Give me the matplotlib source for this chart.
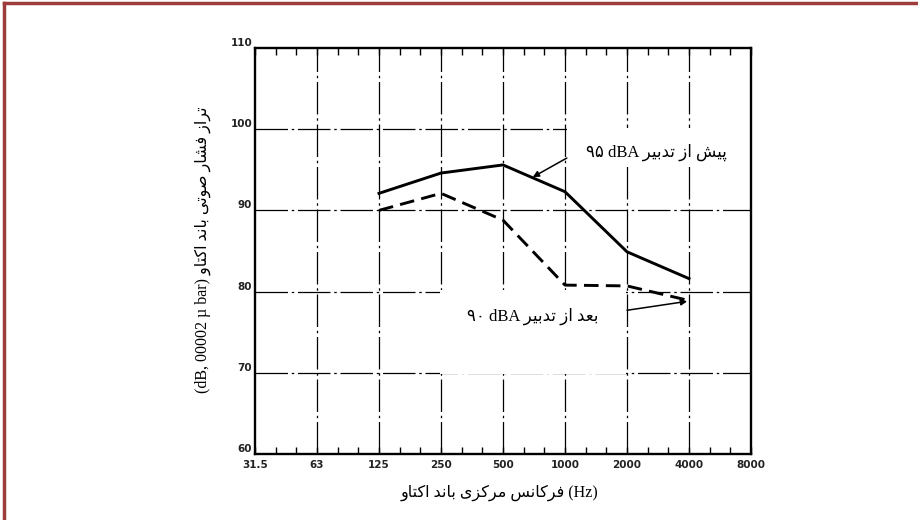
import numpy as np
import matplotlib
matplotlib.use("Agg")
import matplotlib.pyplot as plt
from matplotlib.patches import Rectangle
from matplotlib.lines import Line2D

# octave band centre frequencies (x axis) and measured levels
bands = ['31.5', '63', '125', '250', '500', '1000', '2000', '4000', '8000']
data_bands = ['125', '250', '500', '1000', '2000', '4000']
before_db = [92.1, 94.6, 95.6, 92.3, 84.9, 81.6]
after_db = [90.0, 92.1, 88.8, 80.8, 80.7, 78.9]
y_ticks = [60, 70, 80, 90, 100, 110]

# texts (logical order)
before_fa, before_num = 'پیش از تدبیر', '۹۵'
after_fa, after_num = 'بعد از تدبیر', '۹۰'
xlabel_fa = 'فرکانس مرکزی باند اکتاو'
ylabel_fa = 'تراز فشار صوتی باند اکتاو'
ylabel_unit = '(dB, 00002 µ bar)'

# minimal persian shaping: (isolated, final, initial, medial)
FORMS = {
    'ا': ('\uFE8D', '\uFE8E', None, None),
    'ب': ('\uFE8F', '\uFE90', '\uFE91', '\uFE92'),
    'پ': ('\uFB56', '\uFB57', '\uFB58', '\uFB59'),
    'ت': ('\uFE95', '\uFE96', '\uFE97', '\uFE98'),
    'د': ('\uFEA9', '\uFEAA', None, None),
    'ر': ('\uFEAD', '\uFEAE', None, None),
    'ز': ('\uFEAF', '\uFEB0', None, None),
    'س': ('\uFEB1', '\uFEB2', '\uFEB3', '\uFEB4'),
    'ش': ('\uFEB5', '\uFEB6', '\uFEB7', '\uFEB8'),
    'ص': ('\uFEB9', '\uFEBA', '\uFEBB', '\uFEBC'),
    'ع': ('\uFEC9', '\uFECA', '\uFECB', '\uFECC'),
    'ف': ('\uFED1', '\uFED2', '\uFED3', '\uFED4'),
    'ک': ('\uFB8E', '\uFB8F', '\uFB90', '\uFB91'),
    'م': ('\uFEE1', '\uFEE2', '\uFEE3', '\uFEE4'),
    'ن': ('\uFEE5', '\uFEE6', '\uFEE7', '\uFEE8'),
    'و': ('\uFEED', '\uFEEE', None, None),
    'ی': ('\uFBFC', '\uFBFD', '\uFBFE', '\uFBFF'),
}


def fa(s):
    # shape letters and return them in visual (right-to-left) order
    out = []
    for i, ch in enumerate(s):
        if ch not in FORMS:
            out.append(ch)
            continue
        prev = s[i-1] if i > 0 else ''
        nxt = s[i+1] if i + 1 < len(s) else ''
        jp = prev in FORMS and FORMS[prev][2] is not None
        jn = FORMS[ch][2] is not None and nxt in FORMS
        iso, fin, ini, med = FORMS[ch]
        if jp and jn:
            out.append(med)
        elif jp:
            out.append(fin)
        elif jn:
            out.append(ini)
        else:
            out.append(iso)
    return ''.join(reversed(out))


FAM = ['Liberation Serif', 'DejaVu Sans']

x_all = np.arange(len(bands))
x_data = [bands.index(b) for b in data_bands]

fig = plt.figure(figsize=(9.18, 5.2), dpi=100)
ax = fig.add_axes([255/918, 1-454/520, 496/918, 406/520])

grid_ls = (0, (26, 3, 2, 3))
for xv in x_all[1:-1]:
    ax.axvline(xv, color='black', lw=0.9, ls=grid_ls, zorder=1)
for yv in y_ticks[1:-1]:
    ax.axhline(yv, color='black', lw=0.9, ls=grid_ls, zorder=1)

# white label boxes covering the grid
ax.add_patch(Rectangle((5.03, 95.35), 3.0, 4.8, facecolor='white',
                       edgecolor='none', zorder=2, clip_on=False))
ax.add_patch(Rectangle((2.98, 69.85), 3.0, 10.3, facecolor='white',
                       edgecolor='none', zorder=2))

ax.plot(x_data, before_db, color='black', lw=2.1, zorder=3)
ax.plot(x_data, after_db, color='black', lw=2.1, ls=(0, (5, 2.5)), zorder=3)

ax.text(6.48, 97.1, before_num + ' dBA ' + fa(before_fa), family=FAM,
        fontsize=12, ha='center', va='center', zorder=4)
ax.text(4.48, 76.9, after_num + ' dBA ' + fa(after_fa), family=FAM,
        fontsize=12, ha='center', va='center', zorder=4)
ax.annotate('', xy=(4.48, 94.1), xytext=(5.03, 96.45),
            arrowprops=dict(arrowstyle='-|>', color='black', lw=1.1,
                            mutation_scale=9, shrinkA=0, shrinkB=0), zorder=4)
ax.annotate('', xy=(6.97, 78.8), xytext=(6.0, 77.7),
            arrowprops=dict(arrowstyle='-|>', color='black', lw=1.1,
                            mutation_scale=9, shrinkA=0, shrinkB=0), zorder=4)

ax.set_xlim(0, len(bands) - 1)
ax.set_ylim(60, 110)
ax.set_xticks(x_all)
ax.set_xticklabels(bands)
ax.set_xticks([i + k/3 for i in x_all[:-1] for k in (1, 2)], minor=True)
ax.set_yticks(y_ticks)
ax.set_yticklabels([str(v) for v in y_ticks])
for lab in ax.get_yticklabels():
    lab.set_va('bottom')
for lab in ax.get_xticklabels() + ax.get_yticklabels():
    lab.set_fontweight('bold')
ax.tick_params(axis='x', which='both', direction='in', top=True, length=5,
               width=1.0, labelsize=7.5, labelcolor='#222222', pad=4)
ax.tick_params(axis='y', length=0, labelsize=7.5, labelcolor='#222222', pad=2)
for sp in ax.spines.values():
    sp.set_linewidth(1.7)

fig.text(500/918, 1-493/520, fa(xlabel_fa) + ' (Hz)', family=FAM,
         fontsize=11.5, ha='center', va='center')
fig.text(203/918, 1-250/520, ylabel_unit + ' ' + fa(ylabel_fa), family=FAM,
         fontsize=11.5, ha='center', va='center', rotation=90)

# red frame (top and left)
fig.add_artist(Line2D([0.004, 1.0], [1-3/520, 1-3/520], color='#9e3b3b', lw=2.5))
fig.add_artist(Line2D([4/918, 4/918], [0, 1-3/520], color='#9e3b3b', lw=2.5))

fig.savefig('out.png', dpi=100)
